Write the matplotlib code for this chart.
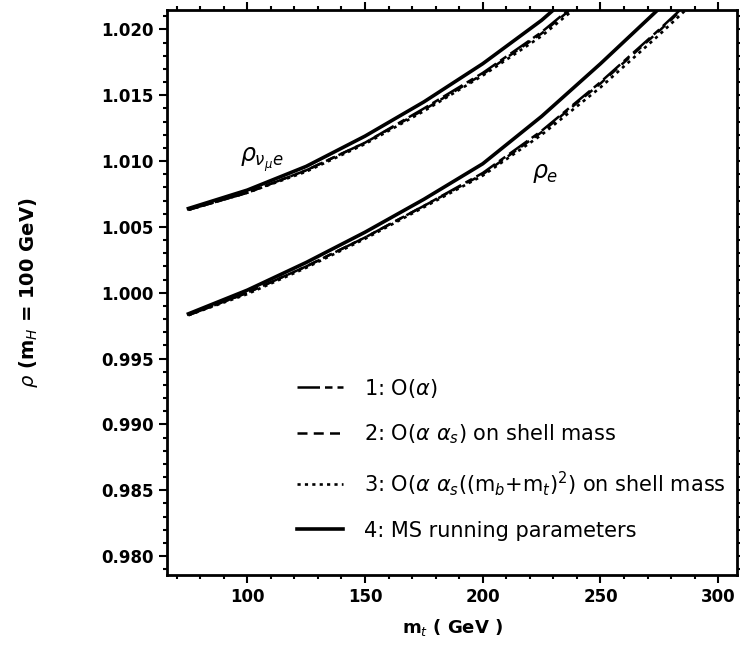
"""
rho parameter vs top mass (m_H = 100 GeV), four approximations.
Writes out.png.
"""
import matplotlib
matplotlib.use("Agg")
import matplotlib.pyplot as plt
from matplotlib.ticker import MultipleLocator, FormatStrFormatter

# top mass grid (GeV)
mt = [75, 100, 125, 150, 175, 200, 225, 250, 275, 300]

# rho_{nu_mu e}
nue_1 = [1.0063, 1.0076, 1.0093, 1.0114, 1.0140, 1.0167, 1.0198, 1.0235, 1.0277, 1.0320]
nue_2 = [1.0063, 1.0076, 1.0093, 1.0114, 1.0139, 1.0166, 1.0197, 1.0234, 1.0276, 1.0319]
nue_3 = [1.0063, 1.0076, 1.0092, 1.0113, 1.0138, 1.0165, 1.0195, 1.0232, 1.0274, 1.0317]
nue_4 = [1.0064, 1.0078, 1.0096, 1.0119, 1.0145, 1.0174, 1.0207, 1.0246, 1.0290, 1.0335]

# rho_e
e_1 = [0.9983, 1.0000, 1.0020, 1.0042, 1.0066, 1.0091, 1.0123, 1.0160, 1.0200, 1.0242]
e_2 = [0.9983, 1.0000, 1.0020, 1.0042, 1.0066, 1.0090, 1.0122, 1.0159, 1.0199, 1.0241]
e_3 = [0.9983, 0.9999, 1.0019, 1.0041, 1.0065, 1.0089, 1.0120, 1.0156, 1.0196, 1.0238]
e_4 = [0.9984, 1.0002, 1.0023, 1.0046, 1.0071, 1.0098, 1.0134, 1.0174, 1.0216, 1.0260]

labels = [r"1: O($\alpha$)",
          r"2: O($\alpha\ \alpha_s$) on shell mass",
          r"3: O($\alpha\ \alpha_s$((m$_b$+m$_t$)$^2$) on shell mass",
          "4: MS running parameters"]

styles = [dict(ls=(0, (9, 2, 3, 2)), lw=1.8),
          dict(ls=(0, (4, 2.5)), lw=1.8),
          dict(ls=(0, (1.2, 1.6)), lw=1.9),
          dict(ls="-", lw=2.6)]

plt.rcParams["font.family"] = "DejaVu Sans"
plt.rcParams["mathtext.fontset"] = "dejavusans"

fig = plt.figure(figsize=(7.4, 6.49), dpi=100)
ax = fig.add_axes([0.226, 0.114, 0.770, 0.871])

handles = []
for ys, st, lab in zip([nue_1, nue_2, nue_3, nue_4], styles, labels):
    h, = ax.plot(mt, ys, color="black", label=lab, **st)
    handles.append(h)
for ys, st in zip([e_1, e_2, e_3, e_4], styles):
    ax.plot(mt, ys, color="black", **st)

ax.text(97, 1.0101, r"$\rho_{\nu_\mu e}$", fontsize=17, va="center", ha="left")
ax.text(221, 1.0091, r"$\rho_e$", fontsize=17, va="center", ha="left")

ax.set_xlim(66, 308)
ax.set_ylim(0.97856, 1.0215)
ax.xaxis.set_major_locator(MultipleLocator(50))
ax.xaxis.set_minor_locator(MultipleLocator(10))
ax.yaxis.set_major_locator(MultipleLocator(0.005))
ax.yaxis.set_minor_locator(MultipleLocator(0.001))
ax.yaxis.set_major_formatter(FormatStrFormatter("%.3f"))
ax.tick_params(which="both", direction="out", top=True, right=True,
               width=1.5, labelsize=12)
ax.tick_params(which="major", length=6)
ax.tick_params(which="minor", length=3)
for lab in ax.get_xticklabels() + ax.get_yticklabels():
    lab.set_fontweight("bold")
for sp in ax.spines.values():
    sp.set_linewidth(2)

ax.set_xlabel(r"m$_t$ ( GeV )", fontsize=13, fontweight="bold", labelpad=8)
ax.set_ylabel(r"$\rho$ (m$_H$ = 100 GeV)", fontsize=14, fontweight="bold",
              labelpad=44)

ax.legend(handles=handles, loc="upper left", bbox_to_anchor=(0.228, 0.351),
          frameon=False, fontsize=15, handlelength=2.2, handletextpad=1.0,
          labelspacing=1.1, borderaxespad=0, borderpad=0)

fig.savefig("out.png", dpi=100)
